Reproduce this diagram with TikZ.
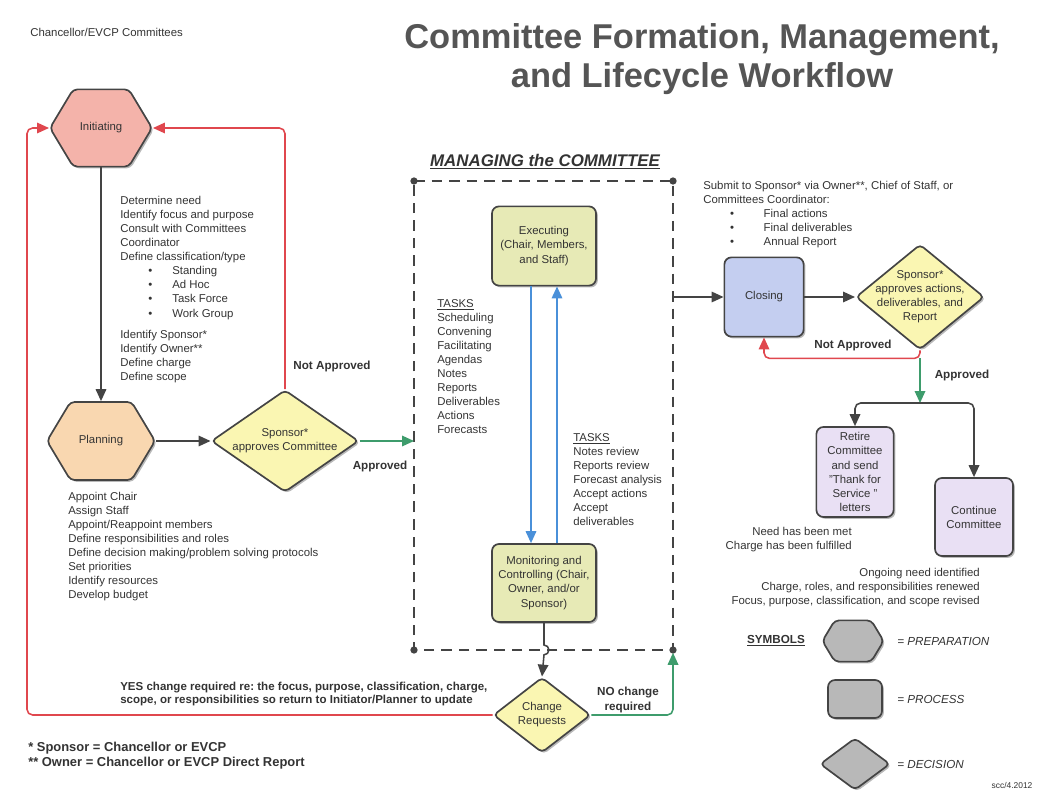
\documentclass[tikz,border=0pt]{standalone}
\usepackage{fontspec}
\setmainfont{Liberation Sans}
\usetikzlibrary{shapes,arrows.meta,calc,positioning,shadows}
\frenchspacing

\definecolor{txtgray}{HTML}{333333}
\definecolor{titlegray}{HTML}{555555}
\definecolor{linegray}{HTML}{444444}
\definecolor{flowred}{HTML}{E0474E}
\definecolor{flowgreen}{HTML}{3E9C6C}
\definecolor{flowblue}{HTML}{4A90D9}
\definecolor{initfill}{HTML}{F4B3AA}
\definecolor{planfill}{HTML}{F9D7B0}
\definecolor{decfill}{HTML}{FAF6B2}
\definecolor{execfill}{HTML}{E7EAB6}
\definecolor{closefill}{HTML}{C4CEF0}
\definecolor{retirefill}{HTML}{E9E0F4}
\definecolor{symfill}{HTML}{B8B8B8}

\tikzset{
  shapebase/.style={draw=linegray, line width=1.2pt, rounded corners=3pt, text=txtgray,
    font=\fontsize{8.1}{10}\selectfont, align=center, inner sep=1pt,
    drop shadow={shadow xshift=1.3pt, shadow yshift=-1.3pt, fill=black!55, opacity=.5}},
  prep/.style={shapebase, shape=signal, signal to=east and west, signal pointer angle=118},
  proc/.style={shapebase, rectangle, rounded corners=5pt},
  decis/.style={shapebase, diamond},
  lbl/.style={font=\fontsize{8.1}{10}\selectfont, text=txtgray, align=left, inner sep=0pt},
  boldlbl/.style={font=\bfseries\fontsize{8.3}{10}\selectfont, text=txtgray, align=center, inner sep=0pt},
  heavylbl/.style={font=\bfseries\fontsize{8.2}{9.3}\selectfont, text=txtgray, align=left, inner sep=0pt},
  legendlbl/.style={font=\itshape\fontsize{8.3}{10}\selectfont, text=txtgray, anchor=west, inner sep=0pt},
  flow/.style={color=linegray, line width=1.1pt, -{Triangle[length=8.5pt,width=7.5pt]}, rounded corners=4pt},
  redflow/.style={flow, color=flowred},
  greenflow/.style={flow, color=flowgreen},
  blueflow/.style={flow, color=flowblue},
  dashbox/.style={linegray, line width=1.2pt, dash pattern=on 7.5pt off 5pt}
}

\newcommand{\bul}[1]{\hspace*{20pt}\makebox[17pt][l]{\textbullet}#1}

\begin{document}
\begin{tikzpicture}[x=0.025cm, y=-0.025cm]
\useasboundingbox (0,0) rectangle (1049,800);

% headings
\node[lbl, anchor=west] (chanc) at (30,32) {Chancellor/EVCP Committees};
\node[font=\bfseries\fontsize{24.5}{27.5}\selectfont, text=titlegray, align=center] (title) at (702,59) {Committee Formation, Management,\\and Lifecycle Workflow};

% preparation
\node[prep, fill=initfill, minimum width=2.55cm, minimum height=1.93cm] (init) at (101,128) {Initiating};
\node[prep, fill=planfill, minimum width=2.7cm, minimum height=1.95cm] (plan) at (101,441) {Planning};
\node[decis, fill=decfill, aspect=1.45, minimum width=3.65cm, minimum height=2.55cm] (spons1) at (285,441) {Sponsor*\\approves Committee};

\node[lbl, anchor=north west] (initList) at (120,196) {Determine need\\Identify focus and purpose\\Consult with Committees\\Coordinator\\Define classification/type\\
  \bul{Standing}\\\bul{Ad Hoc}\\\bul{Task Force}\\\bul{Work Group}\\[5pt]
  Identify Sponsor*\\Identify Owner**\\Define charge\\Define scope};
\node[lbl, anchor=north west] (planList) at (68,492) {Appoint Chair\\Assign Staff\\Appoint/Reappoint members\\Define responsibilities and roles\\Define decision making/problem solving protocols\\Set priorities\\Identify resources\\Develop budget};
\node[boldlbl] (notAppr1) at (332,366) {Not Approved};
\node[boldlbl] (appr1) at (380,466) {Approved};

% managing box
\node[font=\bfseries\itshape\fontsize{12}{14}\selectfont, text=txtgray] (manage) at (545,162) {\underline{MANAGING the COMMITTEE}};
\coordinate (mNW) at (414,181);
\coordinate (mNE) at (673,181);
\coordinate (mSE) at (673,650);
\coordinate (mSW) at (414,650);
\draw[dashbox] (mNW) -- (mNE) -- (mSE) -- (mSW) -- cycle;
\foreach \c in {mNW,mNE,mSE,mSW}
  \fill[linegray] (\c) circle (2.6pt);

\node[proc, fill=execfill, minimum width=2.6cm, minimum height=1.98cm] (exec) at (544,246) {Executing\\(Chair, Members,\\and Staff)};
\node[proc, fill=execfill, minimum width=2.6cm, minimum height=1.95cm] (mon) at (544,583) {Monitoring and\\Controlling (Chair,\\Owner, and/or\\Sponsor)};
\node[decis, fill=decfill, aspect=1.3, minimum width=2.43cm, minimum height=1.88cm] (chg) at (542,715) {Change\\Requests};

\node[lbl, anchor=north west] (tasks1) at (437,299) {\underline{TASKS}\\Scheduling\\Convening\\Facilitating\\Agendas\\Notes\\Reports\\Deliverables\\Actions\\Forecasts};
\node[lbl, anchor=north west] (tasks2) at (573,433) {\underline{TASKS}\\Notes review\\Reports review\\Forecast analysis\\Accept actions\\Accept\\deliverables};

\node[heavylbl, anchor=north west] (yesText) at (120,682) {YES change required re: the focus, purpose, classification, charge,\\scope, or responsibilities so return to Initiator/Planner to update};
\node[boldlbl] (noChange) at (628,700) {NO change\\required};
\node[heavylbl, font=\bfseries\fontsize{9.2}{10.3}\selectfont, anchor=north west] (foot) at (28,742) {* Sponsor = Chancellor or EVCP\\** Owner = Chancellor or EVCP Direct Report};

% closing side
\node[lbl, anchor=north west] (submit) at (703,181) {Submit to Sponsor* via Owner**, Chief of Staff, or\\Committees Coordinator:\\
  \hspace*{19pt}\makebox[24pt][l]{\textbullet}Final actions\\\hspace*{19pt}\makebox[24pt][l]{\textbullet}Final deliverables\\\hspace*{19pt}\makebox[24pt][l]{\textbullet}Annual Report};
\node[proc, fill=closefill, minimum width=1.98cm, minimum height=1.98cm] (closing) at (764,297) {Closing};
\node[decis, fill=decfill, aspect=1.22, inner sep=-4pt, minimum width=3.1cm, minimum height=2.53cm] (spons2) at (920,297) {Sponsor*\\approves actions,\\deliverables, and\\Report};
\node[boldlbl] (notAppr2) at (853,345) {Not Approved};
\node[boldlbl] (appr2) at (962,375) {Approved};
\coordinate (branch) at (920,403);

\node[proc, fill=retirefill, minimum width=1.93cm, minimum height=2.25cm] (retire) at (855,472) {Retire\\Committee\\and send\\"Thank for\\Service "\\letters};
\node[proc, fill=retirefill, minimum width=1.95cm, minimum height=1.95cm] (cont) at (974,517) {Continue\\Committee};
\node[lbl, align=right, anchor=north east] (needMet) at (852,527) {Need has been met\\Charge has been fulfilled};
\node[lbl, align=right, anchor=north east] (ongoing) at (980,568) {Ongoing need identified\\Charge, roles, and responsibilities renewed\\Focus, purpose, classification, and scope revised};

% legend
\node[boldlbl] (symbols) at (776,641) {\underline{SYMBOLS}};
\node[prep, fill=symfill, minimum width=1.53cm, minimum height=1.03cm] (symPrep) at (853,641) {};
\node[proc, fill=symfill, minimum width=1.35cm, minimum height=0.95cm] (symProc) at (855,699) {};
\node[decis, fill=symfill, minimum width=1.75cm, minimum height=1.3cm] (symDec) at (855,764) {};
\node[legendlbl] (lblPrep) at (897,641) {= PREPARATION};
\node[legendlbl] (lblProc) at (897,699) {= PROCESS};
\node[legendlbl] (lblDec) at (897,764) {= DECISION};
\node[font=\fontsize{6}{7}\selectfont, text=txtgray] (scc) at (1012,785) {scc/4.2012};

% connectors
\coordinate (leftRail) at (27,0);
\draw[flow] (init.south) -- (plan.north);
\draw[flow] (plan.east) -- (spons1.west);
\draw[redflow] (spons1.north) |- (init.east);
\draw[redflow] (chg.west) -- (chg.west -| leftRail) |- (init.west);
\draw[greenflow] (spons1.east) -- (spons1.east -| mSW);
\draw[blueflow] ($(exec.south)+(-13,0)$) -- ($(mon.north)+(-13,0)$);
\draw[blueflow] ($(mon.north)+(13,0)$) -- ($(exec.south)+(13,0)$);
\draw[flow, sharp corners] (mon.south) -- ($(mon.south |- mSW)+(0,-5)$) arc[start angle=90, end angle=-90, radius=3.5pt] -- (chg.north);
\draw[greenflow, shorten >=2pt] (chg.east) -| (mSE);
\draw[flow] (closing.west -| mNE) -- (closing.west);
\draw[flow] (closing.east) -- (spons2.west);
\draw[redflow] (spons2.south) -- ++(0,8) -| (closing.south);
\draw[greenflow] ($(spons2.south)+(0,8)$) -- (branch);
\draw[flow] (branch) -| (retire.north);
\draw[flow] (branch) -| (cont.north);
\end{tikzpicture}
\end{document}
